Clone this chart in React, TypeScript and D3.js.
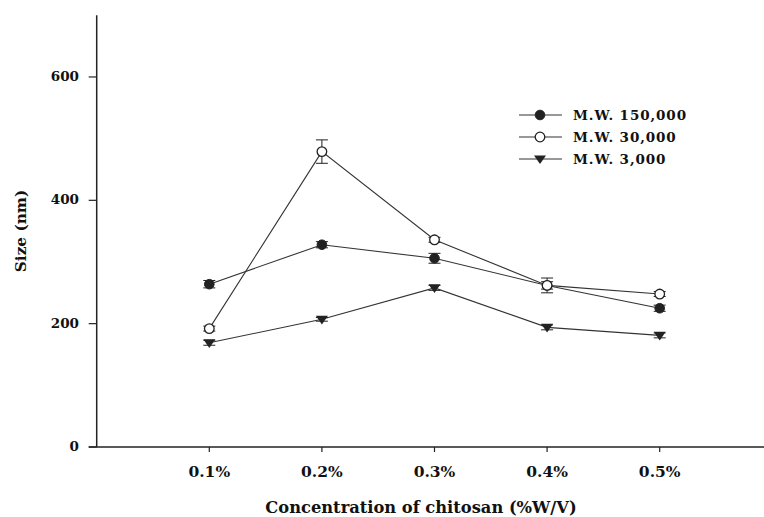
import React from "react";
import * as d3 from "d3";

const concentrations = [0.1, 0.2, 0.3, 0.4, 0.5];
const xTickLabels = ["0.1%", "0.2%", "0.3%", "0.4%", "0.5%"];
const yTicks = [0, 200, 400, 600];

const mw150000 = [264, 328, 306, 262, 225];
const mw150000Err = [6, 5, 8, 6, 5];
const mw30000 = [192, 479, 336, 262, 248];
const mw30000Err = [4, 19, 4, 12, 4];
const mw3000 = [169, 207, 258, 194, 181];
const mw3000Err = [4, 3, 4, 4, 4];

const seriesNames = ["M.W. 150,000", "M.W. 30,000", "M.W. 3,000"];

const W = 764;
const H = 517;

export default function App() {
  const x = d3.scaleLinear().domain([0, 0.6]).range([96.7, 772.3]);
  const y = d3.scaleLinear().domain([0, 700]).range([447, 15.3]);
  const line = d3
    .line<number>()
    .x((_, i) => x(concentrations[i]))
    .y((d) => y(d));

  const series = [
    { name: seriesNames[0], vals: mw150000, err: mw150000Err, kind: "filled" },
    { name: seriesNames[1], vals: mw30000, err: mw30000Err, kind: "open" },
    { name: seriesNames[2], vals: mw3000, err: mw3000Err, kind: "tri" },
  ];

  const col = "#222";
  const marker = (kind: string, cx: number, cy: number, key?: any) => {
    if (kind === "filled")
      return <circle key={key} cx={cx} cy={cy} r={4.8} fill={col} stroke={col} strokeWidth={1} />;
    if (kind === "open")
      return <circle key={key} cx={cx} cy={cy} r={4.8} fill="#fff" stroke={col} strokeWidth={1.3} />;
    const s = 6;
    return (
      <path
        key={key}
        d={`M${cx - s},${cy - s * 0.6} L${cx + s},${cy - s * 0.6} L${cx},${cy + s * 0.85} Z`}
        fill={col}
      />
    );
  };

  const font = "'DejaVu Serif', 'Liberation Serif', serif";

  return (
    <svg
      width={W}
      height={H}
      style={{ position: "absolute", left: 0, top: 0, background: "#fff" }}
      fontFamily={font}
    >
      <rect width={W} height={H} fill="#fff" />
      {/* axes */}
      <line x1={x(0)} x2={x(0)} y1={y(700)} y2={y(0)} stroke={col} strokeWidth={1.5} />
      <line x1={x(0) - 8} x2={W} y1={y(0)} y2={y(0)} stroke={col} strokeWidth={1.5} />
      {yTicks.map((t) => (
        <g key={t}>
          <line x1={x(0) - 8} x2={x(0)} y1={y(t)} y2={y(t)} stroke={col} strokeWidth={1.2} />
          <text
            x={79}
            y={y(t) - 1}
            textAnchor="end"
            dominantBaseline="central"
            fontSize={13.5}
            fontWeight="bold"
            fill="#111"
          >
            {t}
          </text>
        </g>
      ))}
      {concentrations.map((c, i) => (
        <g key={c}>
          <line x1={x(c)} x2={x(c)} y1={y(0)} y2={y(0) + 5} stroke={col} strokeWidth={1.2} />
          <text
            x={x(c)}
            y={471}
            textAnchor="middle"
            dominantBaseline="central"
            fontSize={15.5}
            fontWeight="bold"
            fill="#111"
          >
            {xTickLabels[i]}
          </text>
        </g>
      ))}
      <text
        x={421}
        y={507}
        textAnchor="middle"
        dominantBaseline="central"
        fontSize={16.3}
        fontWeight="bold"
        fill="#111"
      >
        Concentration of chitosan (%W/V)
      </text>
      <text
        transform={`translate(21,231) rotate(-90)`}
        textAnchor="middle"
        dominantBaseline="central"
        fontSize={15.3}
        fontWeight="bold"
        fill="#111"
      >
        Size (nm)
      </text>

      {/* series */}
      {series.map((s) => (
        <g key={s.name}>
          <path d={line(s.vals) || ""} fill="none" stroke="#333" strokeWidth={1.1} />
          {s.vals.map((v, i) => {
            const cx = x(concentrations[i]);
            const e = s.err[i];
            return (
              <g key={i}>
                <line x1={cx} x2={cx} y1={y(v - e)} y2={y(v + e)} stroke={col} strokeWidth={1} />
                <line x1={cx - 6} x2={cx + 6} y1={y(v + e)} y2={y(v + e)} stroke={col} strokeWidth={1} />
                <line x1={cx - 6} x2={cx + 6} y1={y(v - e)} y2={y(v - e)} stroke={col} strokeWidth={1} />
                {marker(s.kind, cx, y(v))}
              </g>
            );
          })}
        </g>
      ))}

      {/* legend */}
      {series.map((s, i) => {
        const ly = 115 + i * 22;
        return (
          <g key={"lg" + i}>
            <line x1={519} x2={562} y1={ly} y2={ly} stroke="#333" strokeWidth={1.2} />
            {marker(s.kind, 540, ly)}
            <text
              x={573}
              y={ly}
              dominantBaseline="central"
              fontSize={13.5}
              fontWeight="bold"
              fill="#111"
              letterSpacing={0.9}
            >
              {s.name}
            </text>
          </g>
        );
      })}
    </svg>
  );
}
